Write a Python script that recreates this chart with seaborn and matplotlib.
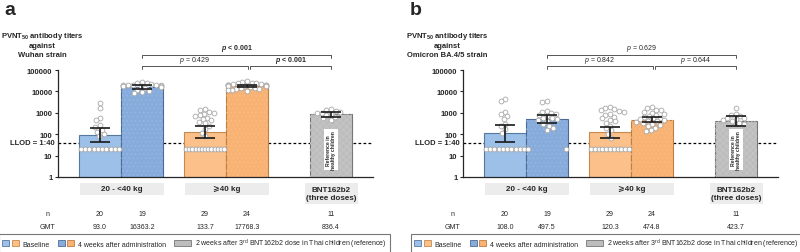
import numpy as np
import pandas as pd
import seaborn as sns
import matplotlib.pyplot as plt
import matplotlib.transforms as mtransforms
from matplotlib.patches import Patch, Rectangle
from matplotlib.legend_handler import HandlerTuple

sns.set_style('ticks')
plt.rcParams['font.family'] = ['Liberation Sans', 'DejaVu Sans']
plt.rcParams['mathtext.fontset'] = 'custom'
plt.rcParams['mathtext.rm'] = 'Liberation Sans'
plt.rcParams['mathtext.it'] = 'Liberation Sans:italic'
plt.rcParams['mathtext.bf'] = 'Liberation Sans:bold'
plt.rcParams['mathtext.bfit'] = 'Liberation Sans:italic:bold'
plt.rcParams['hatch.linewidth'] = 0.5

# groups (same order in both panels)
groups = ['20-<40 kg baseline', '20-<40 kg 4 weeks', '>=40 kg baseline', '>=40 kg 4 weeks', 'BNT162b2 reference']
weight_labels = ['20 - <40 kg', '\u2a7e40 kg', 'BNT162b2\n(three doses)']

# panel a: Wuhan strain
a_n = [20, 19, 29, 24, 11]
a_gmt = [93.0, 16363.2, 133.7, 17768.3, 836.4]
a_ci_lo = [44, 13500, 66, 15500, 650]
a_ci_hi = [195, 19800, 230, 20500, 1080]
a_pts_1 = [20] * 10 + [2900, 1700, 600, 460, 260, 220, 160, 130, 100, 80]
a_pts_2 = [28000, 25000, 24000, 22000, 21000, 20500, 20000, 19500, 19000, 18500, 18000,
           17500, 17000, 16000, 14000, 12000, 10500, 9500, 8500]
a_pts_3 = [20] * 13 + [1500, 1300, 1100, 1000, 900, 750, 700, 600, 500, 450, 380, 320,
                       250, 180, 120, 80]
a_pts_4 = [30000, 28000, 26000, 25000, 24000, 23000, 22000, 21000, 20500, 20000, 19500, 19000,
           18500, 18000, 17500, 17000, 16000, 15000, 14000, 13500, 13000, 12000, 11500, 11000]
a_pts_5 = [1450, 1300, 1250, 1150, 1000, 950, 850, 750, 650, 550, 450]
a_p = ['p < 0.001', 'p = 0.429', 'p < 0.001']
a_sig = [True, False, True]

# panel b: Omicron BA.4/5
b_n = [20, 19, 29, 24, 11]
b_gmt = [108.0, 497.5, 120.3, 474.8, 423.7]
b_ci_lo = [43, 340, 66, 370, 250]
b_ci_hi = [270, 780, 220, 620, 720]
b_pts_1 = [20] * 10 + [4400, 3500, 1100, 900, 700, 510, 300, 250, 175, 120]
b_pts_2 = [3700, 3300, 1250, 1100, 1000, 900, 800, 700, 600, 550, 500, 450, 400, 300, 250,
           200, 150, 20, 20]
b_pts_3 = [20] * 11 + [1800, 1600, 1500, 1300, 1200, 1100, 900, 800, 650, 550, 450, 400,
                       350, 250, 200, 150, 100, 70]
b_pts_4 = [1800, 1600, 1400, 1300, 1100, 1000, 900, 800, 700, 650, 600, 550, 500, 450, 420,
           400, 380, 350, 300, 270, 250, 200, 160, 140]
b_pts_5 = [1650, 900, 800, 700, 600, 550, 500, 450, 400, 350, 300]
b_p = ['p = 0.629', 'p = 0.842', 'p = 0.644']
b_sig = [False, False, False]

# layout / style
x_pos = [1.0, 2.0, 3.5, 4.5, 6.5]
face = ['#9CC0E8', '#87ACDC', '#FCC08A', '#F8B274', '#BDBDBD']
edge = ['#55789F', '#4B6B96', '#C58A50', '#BD7E42', '#767676']
hatch = [None, '....', None, '....', 'xxxxx']
hatch_col = [None, '#96B8E3', None, '#FABD84', '#C7C7C7']

W, H = 800, 253
fig = plt.figure(figsize=(8, 2.53), dpi=100)
ax_h_px = 138
ax_w_px = 315
YTOP = 6.45
XMAX = 7.5


def swarm_x(vals, ppd, unit, diam=4.8, half=19.0):
    vals = np.asarray(vals, dtype=float)
    ys = np.log10(vals) * ppd
    xs = np.zeros(len(vals))
    lod = vals <= 20
    k = lod.sum()
    if k > 1:
        xs[lod] = np.linspace(-half, half, k)
    placed = []
    for i in np.argsort(-ys):
        if lod[i]:
            continue
        cands = [0.0]
        for xj, yj in placed:
            dy = ys[i] - yj
            if abs(dy) < diam:
                dx = np.sqrt(diam ** 2 - dy ** 2)
                cands += [xj - dx, xj + dx]
        cands = sorted(cands, key=abs)
        best = cands[-1]
        for c in cands:
            ok = True
            for xj, yj in placed:
                dy = ys[i] - yj
                if abs(dy) < diam and abs(c - xj) < np.sqrt(diam ** 2 - dy ** 2) - 1e-6:
                    ok = False
                    break
            if ok:
                best = c
                break
        best = float(np.clip(best, -half, half))
        xs[i] = best
        placed.append((best, ys[i]))
    return xs / unit


def draw_panel(left_px, pts, gmt, lo, hi, n, title, ptxt, psig, legend_cx):
    ax = fig.add_axes([left_px / W, (H - 178) / H, ax_w_px / W, ax_h_px / H])
    ppd = ax_h_px / YTOP
    unit = ax_w_px / XMAX

    df = pd.DataFrame({'x': x_pos, 'gmt': gmt, 'grp': groups})
    sns.barplot(data=df, x='x', y='gmt', hue='grp', palette=dict(zip(groups, face)),
                native_scale=True, width=1.0, errorbar=None, legend=False, ax=ax,
                saturation=1, zorder=2)
    ax.set_yscale('log')
    for p in list(ax.patches):
        xc = p.get_x() + p.get_width() / 2
        i = int(np.argmin(np.abs(np.array(x_pos) - xc)))
        p.set_edgecolor(edge[i])
        p.set_linewidth(0.8)
        if hatch[i]:
            ov = Rectangle((p.get_x(), 1e-3), p.get_width(), gmt[i] - 1e-3,
                           facecolor='none', edgecolor=hatch_col[i], lw=0,
                           hatch=hatch[i], zorder=2.5)
            ax.add_patch(ov)

    # individual titers
    rows = []
    for i, v in enumerate(pts):
        offs = swarm_x(v, ppd, unit)
        for o, val in zip(offs, v):
            rows.append((x_pos[i] + o, val))
    pdf = pd.DataFrame(rows, columns=['x', 'titer'])
    sns.scatterplot(data=pdf, x='x', y='titer', ax=ax, marker='o', s=12, color='white',
                    edgecolor='#A8A8A8', linewidth=0.6, zorder=4, legend=False)

    g = np.array(gmt)
    ax.errorbar(x_pos, g, yerr=[g - np.array(lo), np.array(hi) - g], fmt='none',
                ecolor='#1a1a1a', elinewidth=1.2, capsize=7.5, capthick=1.2, zorder=5)

    ax.axhline(40, ls=(0, (2.2, 1.8)), color='black', lw=0.9, zorder=1)
    ax.text(-0.01, 40, 'LLOD = 1:40', transform=mtransforms.blended_transform_factory(
        ax.transAxes, ax.transData), ha='right', va='center', fontsize=5.5, fontweight='bold')

    ax.text(6.5, 19, 'Reference in\nhealthy children', rotation=90, ha='center', va='center',
            fontsize=3.6, fontweight='bold', linespacing=1.1, zorder=6,
            bbox=dict(facecolor='white', edgecolor='none', pad=1.0))

    ax.set_xlim(0, XMAX)
    ax.set_ylim(1, 10 ** YTOP)
    ax.set_yticks([1, 10, 100, 1000, 10000, 100000])
    ax.set_yticklabels(['1', '10', '100', '1000', '10000', '100000'])
    ax.yaxis.set_minor_locator(plt.NullLocator())
    ax.set_xticks([])
    ax.set_xlabel('')
    ax.set_ylabel('')
    for lab in ax.get_yticklabels():
        lab.set_fontweight('bold')
        lab.set_fontsize(5.5)
    ax.tick_params(axis='y', length=2.5, width=0.8, pad=1.5)
    sns.despine(ax=ax)
    ax.spines['left'].set_bounds(1, 100000)
    ax.spines['left'].set_linewidth(0.9)
    ax.spines['bottom'].set_linewidth(0.9)

    ax.text(-0.05, 0.965, title, transform=ax.transAxes, ha='center', va='center',
            fontsize=5.5, fontweight='bold', linespacing=1.25)

    # significance brackets
    def bracket(x1, x2, ly, ty, txt, bold):
        y1 = 10 ** ly
        y0 = 10 ** (ly - 0.13)
        ax.plot([x1, x1, x2, x2], [y0, y1, y1, y0], color='#555555', lw=0.7, clip_on=False)
        if bold:
            s = '$\\mathbfit{p}$' + txt[1:]
            ax.text((x1 + x2) / 2, 10 ** ty, s, ha='center', va='center', fontsize=5,
                    fontweight='bold')
        else:
            s = '$\\it{p}$' + txt[1:]
            ax.text((x1 + x2) / 2, 10 ** ty, s, ha='center', va='center', fontsize=5)

    bracket(2.0, 6.5, 5.70, 6.03, ptxt[0], psig[0])
    bracket(2.0, 4.52, 5.19, 5.47, ptxt[1], psig[1])
    bracket(4.58, 6.5, 5.19, 5.47, ptxt[2], psig[2])

    # groups and table under the axis
    tr = mtransforms.blended_transform_factory(ax.transData, ax.transAxes)
    boxes = [(0.52, 2.52, 0.087), (3.02, 5.02, 0.087), (5.88, 7.14, 0.15)]
    for (x1, x2, hh), lab in zip(boxes, weight_labels):
        ax.add_patch(Rectangle((x1, -0.043), x2 - x1, -hh, transform=tr, clip_on=False,
                               facecolor='#ECECEC', edgecolor='none'))
        ax.text((x1 + x2) / 2, -0.043 - hh / 2, lab, transform=tr, ha='center', va='center',
                fontsize=5.8, fontweight='bold', linespacing=1.15)
    ax.text(-0.26, -0.268, 'n', transform=tr, ha='center', va='center', fontsize=5)
    ax.text(-0.26, -0.362, 'GMT', transform=tr, ha='center', va='center', fontsize=5)
    for xp, nn, gg in zip(x_pos, n, gmt):
        ax.text(xp, -0.268, str(nn), transform=tr, ha='center', va='center', fontsize=5)
        ax.text(xp, -0.362, f'{gg:.1f}', transform=tr, ha='center', va='center', fontsize=5)

    hb = (Patch(facecolor=face[0], edgecolor=edge[0], lw=0.6),
          Patch(facecolor=face[2], edgecolor=edge[2], lw=0.6))
    h4 = (Patch(facecolor=face[1], edgecolor=edge[1], lw=0.6),
          Patch(facecolor=face[3], edgecolor=edge[3], lw=0.6))
    hr = Patch(facecolor=face[4], edgecolor=edge[4], lw=0.6)
    leg = fig.legend([hb, h4, hr],
                     ['Baseline', '4 weeks after administration',
                      '2 weeks after 3$^{\\rm rd}$ BNT162b2 dose in Thai children (reference)'],
                     handler_map={tuple: HandlerTuple(ndivide=None, pad=0.4)},
                     loc='center', bbox_to_anchor=(legend_cx, 0.034), ncol=3, fontsize=5.0,
                     frameon=True, fancybox=False, edgecolor='#555555', handlelength=2.4,
                     handleheight=0.9, handletextpad=0.6, columnspacing=1.1, borderpad=0.4)
    leg.get_frame().set_linewidth(0.8)
    return ax


draw_panel(58, [a_pts_1, a_pts_2, a_pts_3, a_pts_4, a_pts_5], a_gmt, a_ci_lo, a_ci_hi, a_n,
           'PVNT$_{\\mathbf{50}}$ antibody titers\nagainst\nWuhan strain', a_p, a_sig, 0.243)
draw_panel(463, [b_pts_1, b_pts_2, b_pts_3, b_pts_4, b_pts_5], b_gmt, b_ci_lo, b_ci_hi, b_n,
           'PVNT$_{\\mathbf{50}}$ antibody titers\nagainst\nOmicron BA.4/5 strain', b_p, b_sig,
           0.758)

fig.text(4 / W, 1 - 2 / H, 'a', fontsize=14, fontweight='bold', ha='left', va='top')
fig.text(410 / W, 1 - 2 / H, 'b', fontsize=14, fontweight='bold', ha='left', va='top')

fig.savefig('out.png', dpi=100)
